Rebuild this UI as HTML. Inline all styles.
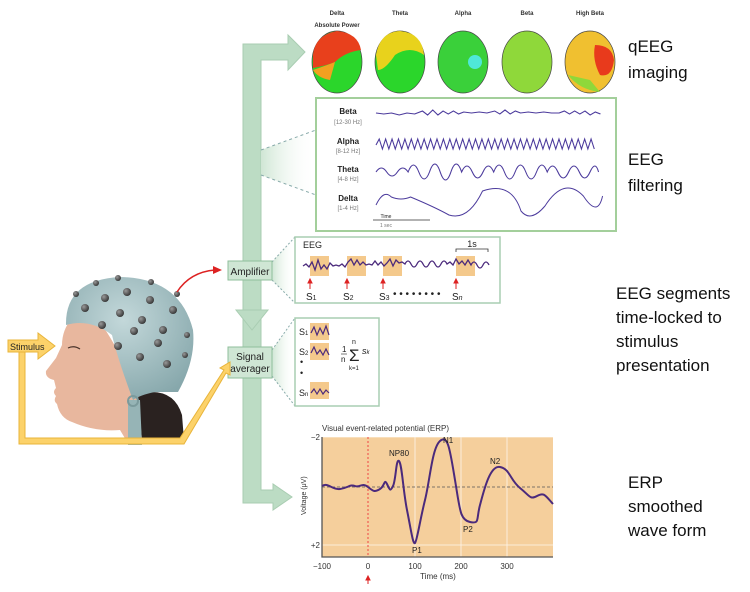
<!DOCTYPE html>
<html><head><meta charset="utf-8"><style>
body{margin:0;background:#fff;width:750px;height:592px;overflow:hidden;font-family:"Liberation Sans",sans-serif}
svg{display:block}
</style></head><body>
<svg width="750" height="592" viewBox="0 0 750 592" xmlns="http://www.w3.org/2000/svg" font-family="Liberation Sans, sans-serif">
<defs>
<linearGradient id="fan" x1="0" x2="1"><stop offset="0" stop-color="#cfe6d4"/><stop offset="1" stop-color="#fff" stop-opacity="0"/></linearGradient>
<radialGradient id="cap" cx="0.45" cy="0.35" r="0.7"><stop offset="0" stop-color="#c3d8da"/><stop offset="1" stop-color="#86a7ab"/></radialGradient>
<radialGradient id="el" cx="0.35" cy="0.35" r="0.7"><stop offset="0" stop-color="#999"/><stop offset="1" stop-color="#333"/></radialGradient>
</defs>
<g fill="#bcdcc4" stroke="#a9cdb2" stroke-width="1">
<path d="M243,503 L243,44 L288,44 L288,35 L305,52 L288,70 L288,60 L261,60 L261,490 L273,490 L273,484 L292,497 L273,510 L273,503 Z"/>
<path d="M236,310 L268,310 L252,330 Z"/>
</g>
<polygon points="272,262 295,237 295,303 272,280" fill="url(#fan)"/>
<line x1="272" y1="262" x2="295" y2="237" stroke="#8aa" stroke-dasharray="2,2"/>
<line x1="272" y1="280" x2="295" y2="303" stroke="#8aa" stroke-dasharray="2,2"/>
<polygon points="272,350 295,318 295,406 272,376" fill="url(#fan)"/>
<line x1="272" y1="350" x2="295" y2="318" stroke="#8aa" stroke-dasharray="2,2"/>
<line x1="272" y1="376" x2="295" y2="406" stroke="#8aa" stroke-dasharray="2,2"/>
<polygon points="261,150 316,130 316,195 261,175" fill="url(#fan)"/>
<line x1="261" y1="150" x2="316" y2="130" stroke="#8aa" stroke-dasharray="3,3"/>
<line x1="261" y1="175" x2="316" y2="195" stroke="#8aa" stroke-dasharray="3,3"/>
<rect x="228" y="261" width="44" height="19" fill="#cfe6d4" stroke="#8fbf9b"/>
<text x="250" y="275" font-size="10" text-anchor="middle" fill="#222">Amplifier</text>
<rect x="228" y="347" width="44" height="31" fill="#cfe6d4" stroke="#8fbf9b"/>
<text x="250" y="360" font-size="10" text-anchor="middle" fill="#222">Signal</text>
<text x="250" y="372" font-size="10" text-anchor="middle" fill="#222">averager</text>
<g font-size="6" font-weight="bold" text-anchor="middle" fill="#333">
<text x="337" y="15">Delta</text><text x="400" y="15">Theta</text><text x="463" y="15">Alpha</text><text x="527" y="15">Beta</text><text x="590" y="15">High Beta</text>
<text x="337" y="27">Absolute Power</text></g>
<g stroke="#444" stroke-width="0.7">
<ellipse cx="337" cy="62" rx="25" ry="31" fill="#2bd62b"/>
<path d="M313,55 Q315,35 337,31 Q358,33 361,50 Q345,52 335,62 Q325,66 313,68Z" fill="#e8401c" stroke="none"/>
<path d="M313,70 Q325,66 335,62 L330,80 Q318,78 313,70Z" fill="#f2a020" stroke="none"/>
<ellipse cx="400" cy="62" rx="25" ry="31" fill="#2bd62b"/>
<path d="M376,55 Q380,32 400,31 Q422,33 424,55 Q410,45 395,55 Q385,70 378,70Z" fill="#e8d21c" stroke="none"/>
<ellipse cx="463" cy="62" rx="25" ry="31" fill="#3ad03a"/>
<circle cx="475" cy="62" r="7" fill="#4fe8d8" stroke="none"/>
<ellipse cx="527" cy="62" rx="25" ry="31" fill="#8fd83a"/>
<ellipse cx="590" cy="62" rx="25" ry="31" fill="#f0c030"/>
<path d="M595,45 Q612,45 614,60 Q612,78 600,75 Q592,60 595,45Z" fill="#e83a1c" stroke="none"/>
<path d="M568,75 Q580,90 600,92 L590,80Z" fill="#8fd83a" stroke="none"/>
</g>
<rect x="316" y="98" width="300" height="133" fill="#fff" stroke="#a3cf9b" stroke-width="2"/>
<g text-anchor="middle" fill="#222"><text x="348" y="114" font-size="8" font-weight="bold">Beta</text><text x="348" y="124" font-size="6" fill="#777">[12-30 Hz]</text>
<text x="348" y="144" font-size="8" font-weight="bold">Alpha</text><text x="348" y="153" font-size="6" fill="#777">[8-12 Hz]</text>
<text x="348" y="172" font-size="8" font-weight="bold">Theta</text><text x="348" y="181" font-size="6" fill="#777">[4-8 Hz]</text>
<text x="348" y="201" font-size="8" font-weight="bold">Delta</text><text x="348" y="210" font-size="6" fill="#777">[1-4 Hz]</text>
<text x="386" y="218" font-size="5">Time</text><text x="386" y="227" font-size="5" fill="#777">1 sec</text></g>
<line x1="373" y1="220" x2="430" y2="220" stroke="#333" stroke-width="0.7"/>
<g fill="none" stroke="#4b3a9c" stroke-width="1">
<path transform="translate(376,0) scale(1.29,1) translate(-376,0)" d="M376,113 l6,1 6,-1 6,2 6,-2 6,1 6,-3 4,4 4,-5 4,5 4,-4 4,3 4,-3 4,3 4,-2 6,1 6,-1 6,1 6,-2 4,3 4,-4 4,4 4,-3 4,2 6,-1 6,1 6,-1 6,1 6,0 4,-2 4,3 4,-3 4,3 4,-3 4,4 4,-3 4,2"/>
<path transform="translate(376,0) scale(1.07,1) translate(-376,0)" d="M376,145 l3,-6 3,10 3,-10 3,10 3,-10 3,10 3,-10 3,10 3,-10 3,10 3,-10 3,10 3,-10 3,10 3,-10 3,10 3,-10 3,10 3,-10 3,10 3,-10 3,10 3,-10 3,10 3,-10 3,10 3,-10 3,10 3,-10 3,10 3,-10 3,10 3,-10 3,10 3,-10 3,10 3,-10 3,10 3,-10 3,10 3,-10 3,10 3,-10 3,10 3,-10 3,10 3,-10 3,10 3,-10 3,10 3,-10 3,10 3,-10 3,10 3,-10 3,10 3,-10 3,10 3,-10 3,10 3,-10 3,10 3,-10 3,10 3,-10 3,10 3,-10 3,10"/>
<path transform="translate(376,0) scale(1.07,1) translate(-376,0)" d="M376,172 q5,-8 10,0 t10,0 t10,0 q5,-14 10,0 t10,0 q5,-16 10,0 t10,0 t10,0 q5,-12 10,0 t10,0 t10,0 q5,-14 10,0 t10,0 t10,0 t10,0 t10,0 q5,-12 10,0 t10,0 t10,0 t10,0 t8,0"/>
<path transform="translate(376,0) scale(0.96,1) translate(-376,0)" d="M376,205 q8,-16 16,-8 q10,4 20,0 q25,10 40,18 q20,6 35,-24 q30,-10 40,20 q10,12 25,-5 q20,-30 40,-10 q15,22 20,0"/>
</g>
<rect x="295" y="237" width="205" height="66" fill="#fff" stroke="#a9cdb2" stroke-width="1.5"/>
<text x="303" y="248" font-size="9" fill="#222">EEG</text>
<text x="472" y="247" font-size="9" fill="#222" text-anchor="middle">1s</text>
<path d="M456,252 l0,-3 32,0 0,3" fill="none" stroke="#333" stroke-width="0.8"/>
<g fill="#f4c98c"><rect x="310" y="256" width="19" height="20"/><rect x="347" y="256" width="19" height="20"/><rect x="383" y="256" width="19" height="20"/><rect x="456" y="256" width="19" height="20"/></g>
<path d="M303,266 l3,-2 3,3 3,-5 3,8 3,-10 3,9 3,-4 3,4 3,-6 3,3 3,-1 3,1 3,-2 3,3 3,-5 3,-3 3,6 3,-5 3,5 3,-3 3,3 3,-1 3,1 3,-4 3,4 3,-3 3,4 3,-3 3,-4 3,7 3,-6 3,3 3,-1 3,2 q3,-6 6,0 t6,0 t6,0 t6,0 t6,0 t6,0 t6,0 l3,-2 3,3 3,-6 3,5 3,-3 3,4 3,-5 3,5 q3,-6 6,0 t6,0 t6,0" fill="none" stroke="#4b2a7c" stroke-width="1.3"/>
<g fill="#d22" stroke="#d22"><path d="M310,289 l0,-8"/><path d="M347,289 l0,-8"/><path d="M383,289 l0,-8"/><path d="M456,289 l0,-8"/>
<path d="M308,283 l2,-4 2,4z"/><path d="M345,283 l2,-4 2,4z"/><path d="M381,283 l2,-4 2,4z"/><path d="M454,283 l2,-4 2,4z"/></g>
<g font-size="10" fill="#222"><text x="306" y="300">S<tspan font-size="7">1</tspan></text><text x="343" y="300">S<tspan font-size="7">2</tspan></text><text x="379" y="300">S<tspan font-size="7">3</tspan></text><text x="452" y="300">S<tspan font-size="7" font-style="italic">n</tspan></text>
<text x="393" y="297" font-size="10">• • • • • • • •</text></g>
<rect x="295" y="318" width="84" height="88" fill="#fff" stroke="#a9cdb2" stroke-width="1.5"/>
<g fill="#f4c98c"><rect x="310" y="323" width="19" height="17"/><rect x="310" y="343" width="19" height="17"/><rect x="310" y="382" width="19" height="17"/></g>
<g fill="none" stroke="#4b2a7c" stroke-width="1.2"><path d="M311,333 l3,-6 3,8 3,-7 3,6 3,-8 3,9"/><path d="M311,353 l3,-6 3,7 3,-4 3,5 3,-6 3,6"/><path d="M311,393 l3,-4 3,5 3,-5 3,5 3,-4 3,3"/></g>
<g font-size="9" fill="#222"><text x="299" y="335">S<tspan font-size="6">1</tspan></text><text x="299" y="355">S<tspan font-size="6">2</tspan></text><text x="300" y="365">•</text><text x="300" y="376">•</text><text x="299" y="396">S<tspan font-size="6">n</tspan></text>
<text x="342" y="352" font-size="8">1</text><line x1="341" y1="354" x2="347" y2="354" stroke="#222" stroke-width="0.6"/><text x="341" y="362" font-size="8">n</text>
<text x="349" y="361" font-size="17">Σ</text><text x="352" y="344" font-size="7">n</text><text x="349" y="370" font-size="6">k=1</text><text x="362" y="354" font-size="9" font-style="italic">s<tspan font-size="6">k</tspan></text></g>
<text x="322" y="431" font-size="8" fill="#333">Visual event-related potential (ERP)</text>
<rect x="322" y="437" width="231" height="120" fill="#f5cf9c"/>
<g stroke="#fff" stroke-width="0.8" opacity="0.8"><line x1="415" y1="437" x2="415" y2="557"/><line x1="461" y1="437" x2="461" y2="557"/><line x1="507" y1="437" x2="507" y2="557"/><line x1="322" y1="545" x2="553" y2="545"/><line x1="322" y1="437" x2="553" y2="437"/></g>
<line x1="368" y1="437" x2="368" y2="557" stroke="#e44" stroke-dasharray="2,2"/>
<line x1="322" y1="487" x2="553" y2="487" stroke="#555" stroke-dasharray="3,2" stroke-width="0.8"/>
<path d="M322,437 L322,557 L553,557" fill="none" stroke="#555" stroke-width="1.3"/>
<path d="M322,486 C328,482 332,490 340,489 S350,484 355,486 S362,482 368,487 S375,492 380,489 S384,478 387,484 S390,492 393,486 S396,458 399,461 S403,490 407,510 S413,545 415,543 S420,520 425,500 S432,448 440,441 S450,450 455,480 S460,520 470,522 S476,520 480,505 S490,465 500,467 S510,480 520,488 S530,500 537,496 S545,495 553,504" fill="none" stroke="#4b2a7c" stroke-width="2"/>
<g font-size="8" fill="#222"><text x="389" y="456">NP80</text><text x="443" y="443">N1</text><text x="490" y="464">N2</text><text x="463" y="532">P2</text><text x="412" y="553">P1</text></g>
<g font-size="8" fill="#333" text-anchor="middle"><text x="322" y="569">−100</text><text x="368" y="569">0</text><text x="415" y="569">100</text><text x="461" y="569">200</text><text x="507" y="569">300</text><text x="438" y="579">Time (ms)</text></g>
<g font-size="8" fill="#333" text-anchor="end"><text x="320" y="440">−2</text><text x="320" y="548">+2</text></g>
<text x="306" y="515" font-size="7" fill="#333" transform="rotate(-90 306 515)">Voltage (μV)</text>
<path d="M368,584 l0,-5 M366,580 l2,-4 2,4z" stroke="#d22" fill="#d22"/>
<g font-size="17" fill="#111"><text x="628" y="52">qEEG</text><text x="628" y="78">imaging</text>
<text x="628" y="165">EEG</text><text x="628" y="191">filtering</text>
<text x="616" y="299">EEG segments</text><text x="616" y="323">time-locked to</text><text x="616" y="347">stimulus</text><text x="616" y="371">presentation</text>
<text x="628" y="488">ERP</text><text x="628" y="512">smoothed</text><text x="628" y="536">wave form</text></g>
<!-- head -->
<path d="M152,392 Q175,392 182,415 L184,440 L140,440 L135,395Z" fill="#2a2220"/>
<path d="M72,318 Q62,330 62,345 L56,358 L46,371 Q45,378 54,380 L56,388 Q52,392 56,396 Q53,401 57,404 Q60,418 72,422 Q95,432 120,430 L126,440 L142,440 L138,395 Q120,350 100,322Z" fill="#e8b79e"/>
<path d="M68,348 q6,-3 12,1" stroke="#4a332a" stroke-width="1.2" fill="none"/>
<path d="M66,325 Q65,280 120,277 Q180,278 193,330 Q196,360 178,392 L155,392 Q140,395 133,400 Q118,360 112,335 Q90,318 66,325Z" fill="url(#cap)"/>
<path d="M128,400 L140,400 L142,445 L128,445Z" fill="#96b4b6"/>
<circle cx="133" cy="401" r="5" fill="none" stroke="#7b9a9c" stroke-width="2"/>
<g fill="url(#el)">
<circle cx="85" cy="308" r="4"/><circle cx="105" cy="298" r="4"/><circle cx="127" cy="292" r="4"/><circle cx="150" cy="300" r="4"/><circle cx="173" cy="310" r="4"/>
<circle cx="76" cy="294" r="3"/><circle cx="96" cy="283" r="3"/><circle cx="118" cy="278" r="3"/><circle cx="151" cy="282" r="3"/><circle cx="177" cy="294" r="3"/>
<circle cx="120" cy="313" r="4"/><circle cx="142" cy="320" r="4"/><circle cx="102" cy="325" r="4"/><circle cx="134" cy="331" r="4"/><circle cx="163" cy="330" r="4"/><circle cx="187" cy="335" r="3"/>
<circle cx="118" cy="346" r="4"/><circle cx="158" cy="343" r="4"/><circle cx="140" cy="357" r="4"/><circle cx="167" cy="364" r="4"/><circle cx="185" cy="355" r="3"/>
</g>
<path d="M177,292 Q190,272 215,270" fill="none" stroke="#d22" stroke-width="1.5"/><path d="M213,266 L222,270 L213,274Z" fill="#d22"/>
<g fill="#fcd26a" stroke="#e8b43a" stroke-width="1">
<path d="M19,352 L25,352 L25,438 L180,438 L224,370 L220,368 L230,362 L230,375 L226,373 L184,444 L19,444Z"/>
<path d="M8,340 L38,340 L38,333 L55,346 L38,359 L38,352 L8,352Z"/>
</g>
<text x="10" y="350" font-size="9" fill="#222">Stimulus</text>
</svg>
</body></html>
